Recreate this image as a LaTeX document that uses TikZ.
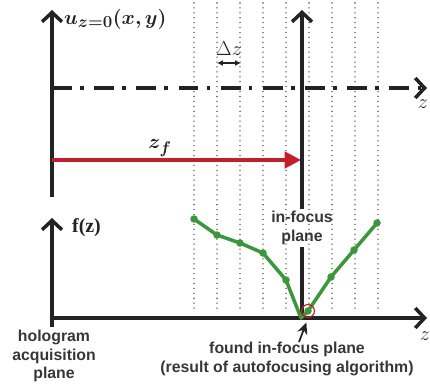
\documentclass[tikz,border=0pt]{standalone}
\usepackage{amsmath,bm}
\usepackage{fontspec}
\setsansfont{Liberation Sans}
\newfontfamily\timesfont{Liberation Serif}
\usetikzlibrary{arrows.meta, positioning, calc}
\definecolor{AxisGray}{RGB}{35,35,35}
\definecolor{TextGray}{RGB}{55,55,55}
\definecolor{FocusRed}{RGB}{196,30,42}
\definecolor{CurveGreen}{RGB}{60,150,60}
\definecolor{DotGray}{RGB}{80,80,80}

\begin{document}
\begin{tikzpicture}[x=0.03cm, y=-0.03cm,
  axisline/.style={AxisGray, line width=3pt},
  axis/.style={axisline, -{Straight Barb[length=8pt,width=17pt]}},
  dashaxis/.style={axis, dash pattern=on 17pt off 7pt on 3pt off 9pt},
  planeline/.style={DotGray, line width=1.3pt, line cap=round, dash pattern=on 0pt off 4.2pt},
  zfarrow/.style={FocusRed, line width=3pt, -{Triangle[length=14pt,width=14pt]}},
  curve/.style={CurveGreen, line width=3pt, line join=round},
  pointer/.style={AxisGray, line width=1.5pt, -{Stealth[length=10pt,width=9pt]}},
  caption/.style={TextGray, font=\sffamily\bfseries\fontsize{13.5}{16}\selectfont, align=center},
  mathlabel/.style={AxisGray, font=\fontsize{19}{22}\selectfont}]
\useasboundingbox (0,0) rectangle (430,385);

% Reconstruction planes, Delta z apart
\foreach \k in {0,...,8}{
  \pgfmathsetmacro\xp{194 + \k*23}
  \draw[planeline] (\xp,3) -- (\xp,312);
}

% Upper diagram: hologram plane and optical axis
\coordinate (uorig) at (52,197);
\coordinate (utop)  at (52,10);
\coordinate (ddstart) at (52,88);
\coordinate (ddend)   at (427,88);
\draw[axis] (uorig) -- (utop);
\draw[dashaxis] (ddstart) -- (ddend);
\node[mathlabel, anchor=west] (ulabel) at (60,19) {$\bm{u_{z=0}(x,y)}$};
\node[mathlabel] (zup) at (423,104) {$z$};

% Delta z spacing
\coordinate (dzl) at (217,63);
\coordinate (dzr) at (241,63);
\draw[AxisGray, line width=1.1pt, {Latex[length=5pt,width=5pt]}-{Latex[length=5pt,width=5pt]}] (dzl) -- (dzr);
\node[mathlabel, font=\fontsize{17}{20}\selectfont] (dzlabel) at (229,49) {$\Delta z$};

% Focus distance
\coordinate (zfstart) at (52,160);
\coordinate (zfend)   at (301,160);
\draw[zfarrow] (zfstart) -- (zfend);
\node[FocusRed, mathlabel] (zflabel) at (160,148) {$\bm{z_f}$};

% In-focus plane
\coordinate (ftop) at (302,10);
\coordinate (fbot) at (302,318);
\node[caption, inner sep=2pt] (infocus) at (302,228) {in-focus\\plane};
\draw[axis] (infocus.north) -- (ftop);
\draw[axisline] (infocus.south) -- (fbot);

% Lower diagram: focus measure
\coordinate (fybot) at (52,327);
\coordinate (fytop) at (52,218);
\coordinate (forig) at (52,318);
\coordinate (fxend) at (427,318);
\draw[axis] (fybot) -- (fytop);
\draw[axis] (forig) -- (fxend);
\node[AxisGray, font=\timesfont\bfseries\fontsize{17}{20}\selectfont, anchor=west] (flabel) at (68,228) {f(z)};
\node[mathlabel] (zlow) at (425,336) {$z$};

% Focus curve
\foreach \i/\x/\y in {1/194/219, 2/217/235, 3/240/243, 4/263/253, 5/286/280,
                      6/301/318, 7/308/311, 8/331/277, 9/354/250, 10/377/223}
  \coordinate (g\i) at (\x,\y);
\draw[curve] (g1) \foreach \i in {2,...,10}{ -- (g\i) };
\foreach \i in {1,2,3,4,5,7,8,9,10}
  \fill[CurveGreen] (g\i) circle (3.2pt);
\node[draw=FocusRed, circle, line width=1pt, minimum size=11pt, inner sep=0pt] (found) at (g7) {};

% Captions
\node[caption] (hololabel) at (54,356) {hologram\\acquisition\\plane};
\node[caption] (foundlabel) at (287,359) {found in-focus plane\\(result of autofocusing algorithm)};
\coordinate (ptrtail) at (299,342);
\draw[pointer, shorten >=4pt] (ptrtail) -- (found.south);

\end{tikzpicture}
\end{document}
